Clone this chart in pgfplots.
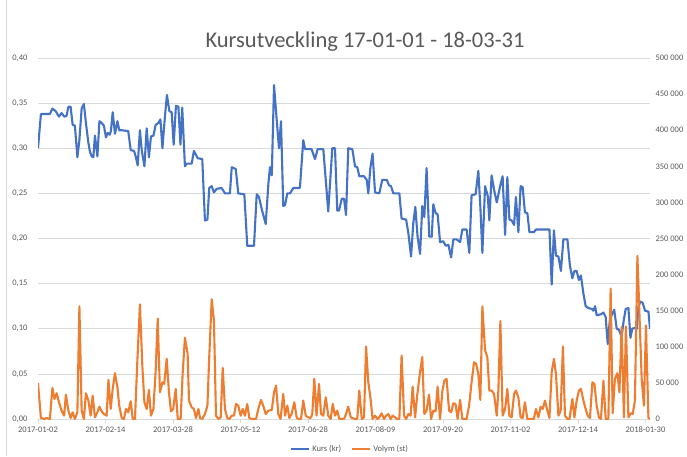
\documentclass[border=0pt]{standalone}
\usepackage{pgfplots}
\pgfplotsset{compat=1.18}
\usepackage{fontspec}
\setmainfont{Carlito}
\definecolor{kurs}{HTML}{4472C4}
\definecolor{volym}{HTML}{ED7D31}
\definecolor{gridc}{HTML}{D9D9D9}
\definecolor{txt}{HTML}{595959}
\begin{document}
\begin{tikzpicture}
\path[use as bounding box, fill=white] (-38pt,-37pt) rectangle (649pt,419pt);
\draw[gridc, line width=0.75pt] (-32pt,-37pt) -- (-32pt,419pt);
\begin{axis}[
  at={(0pt,0pt)}, anchor=south west, scale only axis, width=612pt, height=361pt,
  xmin=0, xmax=272, ymin=0, ymax=0.4,
  axis line style={draw=none},
  ymajorgrids, grid style={gridc, line width=0.75pt},
  ytick={0,0.05,0.1,0.15,0.2,0.25,0.3,0.35,0.4},
  yticklabels={{0,00},{0,05},{0,10},{0,15},{0,20},{0,25},{0,30},{0,35},{0,40}},
  ytick style={draw=none},
  yticklabel style={font=\fontsize{8.5}{10}\selectfont, text=txt, anchor=east, xshift=-3pt},
  xtick={0,30,60,90,120,150,180,210,240,270},
  xticklabels={2017-01-02,2017-02-14,2017-03-28,2017-05-12,2017-06-28,2017-08-09,2017-09-20,2017-11-02,2017-12-14,2018-01-30},
  xtick pos=bottom, tick align=outside, major tick length=4pt,
  xtick style={gridc, line width=0.75pt},
  xticklabel style={font=\fontsize{8.5}{10}\selectfont, text=txt},
]
\addplot[kurs, line width=2.1pt, line join=round] coordinates {
(0,0.300)(1.3,0.338)(5.3,0.338)(6.4,0.344)(7.9,0.341)(9.3,0.335)(10.5,0.339)(11.7,0.335)(12.7,0.336)(13.5,0.346)(14.5,0.346)(15.4,0.326)(16.4,0.325)(17.5,0.290)(18.4,0.309)(19.4,0.344)(20.4,0.349)(21.3,0.328)(22.4,0.306)(23.1,0.296)(23.9,0.291)(24.6,0.290)(25.3,0.314)(26.4,0.291)(27.3,0.330)(28.3,0.328)(29.3,0.325)(30.2,0.312)(31.0,0.317)(31.9,0.315)(32.4,0.319)(33.2,0.340)(34.2,0.316)(35.3,0.330)(36.1,0.320)(37.2,0.320)(40.1,0.319)(41.2,0.298)(42.7,0.297)(43.4,0.291)(44.3,0.281)(45.3,0.320)(46.1,0.298)(47.3,0.280)(48.3,0.322)(49.3,0.290)(50.2,0.313)(51.3,0.314)(52.3,0.326)(53.5,0.328)(54.4,0.332)(55.3,0.300)(56.4,0.335)(57.3,0.359)(58.4,0.341)(59.4,0.340)(60.3,0.304)(61.3,0.347)(62.4,0.346)(63.3,0.304)(64.1,0.345)(65.3,0.280)(66.1,0.283)(68.3,0.283)(69.3,0.297)(71.0,0.289)(73.0,0.288)(74.2,0.220)(75.3,0.221)(76.1,0.256)(77.2,0.258)(78.2,0.251)(79.4,0.255)(81.6,0.256)(83.1,0.250)(85.3,0.250)(86.1,0.279)(87.9,0.277)(89.0,0.250)(91.7,0.249)(93.0,0.192)(96.0,0.192)(97.2,0.249)(98.2,0.246)(99.4,0.233)(101.2,0.216)(102.4,0.261)(103.1,0.279)(103.9,0.270)(104.9,0.370)(106.1,0.331)(107.1,0.300)(108.0,0.330)(109.0,0.236)(109.8,0.237)(110.8,0.250)(112.0,0.250)(113.5,0.256)(116.4,0.256)(117.9,0.309)(118.7,0.299)(121.6,0.299)(123.1,0.288)(124.3,0.299)(126.8,0.299)(129.0,0.230)(130.8,0.300)(132.0,0.300)(133.0,0.231)(133.8,0.231)(135.0,0.244)(136.0,0.244)(136.9,0.226)(137.9,0.300)(139.7,0.299)(140.9,0.280)(141.9,0.279)(142.8,0.269)(144.9,0.269)(146.1,0.265)(146.8,0.250)(147.7,0.278)(148.7,0.294)(149.8,0.251)(151.7,0.250)(153.0,0.265)(155.0,0.265)(156.0,0.259)(156.9,0.258)(157.9,0.250)(160.6,0.250)(161.6,0.222)(163.6,0.221)(164.6,0.206)(165.8,0.180)(166.8,0.217)(167.7,0.235)(168.7,0.202)(169.8,0.183)(170.8,0.236)(171.7,0.224)(172.7,0.278)(173.9,0.202)(175.0,0.202)(175.7,0.238)(176.7,0.228)(177.6,0.227)(178.7,0.196)(180.1,0.197)(181.2,0.192)(182.4,0.193)(183.6,0.179)(184.6,0.199)(186.1,0.199)(187.6,0.196)(188.6,0.210)(190.5,0.210)(191.7,0.184)(192.7,0.248)(194.5,0.249)(195.7,0.275)(196.6,0.235)(197.5,0.184)(198.7,0.258)(199.9,0.247)(200.6,0.220)(201.6,0.270)(202.7,0.254)(203.9,0.240)(205.3,0.257)(206.5,0.269)(207.6,0.204)(208.6,0.268)(209.5,0.221)(210.5,0.220)(211.6,0.215)(212.4,0.246)(213.5,0.207)(214.5,0.258)(215.4,0.257)(216.4,0.229)(217.5,0.228)(218.4,0.207)(220.4,0.207)(221.3,0.210)(227.3,0.210)(228.3,0.149)(229.3,0.209)(230.2,0.181)(231.3,0.180)(232.4,0.164)(233.5,0.199)(235.3,0.199)(236.4,0.170)(237.5,0.156)(238.4,0.164)(239.4,0.164)(240.4,0.154)(241.3,0.159)(242.4,0.139)(243.4,0.125)(244.6,0.123)(246.1,0.122)(246.8,0.120)(247.6,0.125)(248.3,0.115)(250.2,0.116)(251.3,0.118)(252.3,0.113)(253.2,0.083)(254.2,0.111)(255.3,0.117)(256.1,0.121)(257.2,0.100)(258.2,0.099)(259.4,0.091)(260.3,0.109)(261.2,0.122)(262.4,0.123)(263.3,0.090)(264.1,0.100)(265.3,0.101)(266.2,0.100)(266.8,0.124)(267.7,0.130)(268.7,0.129)(269.8,0.120)(271.3,0.119)(272.0,0.100)
};
\end{axis}
\begin{axis}[
  at={(0pt,0pt)}, anchor=south west, scale only axis, width=612pt, height=361pt,
  xmin=0, xmax=272, ymin=0, ymax=500000,
  axis line style={draw=none},
  xtick=\empty,
  ytick={0,50000,100000,150000,200000,250000,300000,350000,400000,450000,500000},
  yticklabels={0,50 000,100 000,150 000,200 000,250 000,300 000,350 000,400 000,450 000,500 000},
  ytick pos=right, yticklabel pos=right, ytick style={draw=none},
  yticklabel style={font=\fontsize{8.5}{10}\selectfont, text=txt, anchor=west, xshift=2pt},
  scaled y ticks=false,
  legend style={at={(0.51,-0.083)}, anchor=center, draw=none, fill=none,
    font=\fontsize{8.5}{10}\selectfont, text=txt,
    /tikz/every even column/.append style={column sep=8pt}},
  legend columns=2,
  legend image code/.code={\draw[#1] (0pt,0pt) -- (18pt,0pt);},
]
\addlegendimage{kurs, line width=2.1pt}
\addlegendentry{Kurs (kr)}
\addplot[volym, line width=2.1pt, line join=round] coordinates {
(0,49500)(1.3,1400)(2.8,0)(3.9,1400)(5.3,0)(6.4,43100)(7.3,27800)(8.3,35700)(9.3,23200)(10.5,11600)(11.6,4600)(12.4,33800)(13.5,11600)(14.5,1400)(15.4,9300)(16.4,0)(17.5,9300)(18.4,156000)(19.4,11600)(20.4,0)(21.3,35700)(22.4,25500)(23.4,4600)(24.3,32400)(25.3,2300)(26.4,9300)(27.3,17100)(28.3,10600)(29.3,6900)(30.5,4600)(31.3,54200)(32.3,13900)(33.2,41700)(34.2,63400)(35.3,44000)(36.1,18500)(37.2,1400)(38.2,0)(39.1,13900)(40.1,9300)(41.2,24500)(42.1,0)(43.1,0)(44.1,76400)(45.3,158800)(46.4,71800)(47.3,23200)(48.3,13900)(49.3,40300)(50.2,4600)(51.3,13900)(52.3,67100)(53.2,138900)(54.2,37000)(55.3,50900)(56.1,48600)(57.2,83300)(58.2,37000)(59.1,10600)(60.1,13900)(61.2,41700)(62.1,0)(63.4,0)(64.3,63400)(65.3,112500)(66.5,90300)(67.1,25500)(68.3,16200)(69.3,13900)(70.2,1400)(71.3,13900)(72.0,1400)(73.0,0)(74.2,6900)(75.3,18500)(76.1,85700)(77.2,165800)(78.2,136600)(79.1,4600)(80.1,0)(81.2,2300)(82.1,70800)(83.1,13900)(84.1,1400)(85.0,0)(86.1,4600)(87.1,4600)(88.0,20800)(89.0,18500)(90.1,4600)(91.0,13900)(92.0,4600)(93.0,20800)(93.9,1400)(95.0,0)(96.9,0)(97.9,13900)(99.1,26400)(100.1,18500)(101.2,6900)(102.4,11600)(103.9,12500)(104.9,37000)(105.8,46300)(106.8,6900)(107.8,0)(109.0,34700)(109.8,4600)(110.8,18500)(111.7,1400)(112.7,6900)(113.9,23200)(115.0,1400)(116.0,0)(116.9,0)(117.9,25500)(119.0,4600)(120.1,2300)(121.2,1400)(121.9,6900)(122.8,55600)(123.8,4600)(124.9,48600)(125.8,6900)(126.8,4600)(127.9,30100)(129.0,4600)(130.1,0)(131.0,20800)(132.0,4600)(133.0,11600)(133.9,0)(136.0,0)(136.9,6900)(137.9,17100)(139.0,2300)(140.9,0)(141.9,0)(142.8,39400)(143.9,0)(144.9,2300)(145.8,100500)(146.8,50900)(147.9,25500)(148.7,0)(149.8,4600)(150.8,0)(151.7,2300)(152.7,7900)(153.8,0)(154.7,4600)(155.7,6900)(156.7,0)(157.6,4600)(158.7,2300)(159.7,0)(160.6,0)(161.6,88000)(162.7,4600)(163.6,0)(164.6,6900)(165.6,4600)(166.5,44900)(167.6,2300)(168.6,34700)(169.8,64800)(170.8,85700)(171.7,6900)(172.7,11600)(173.8,33800)(174.7,0)(175.7,11600)(176.7,10600)(177.6,44900)(178.7,0)(179.7,38400)(180.6,53200)(181.6,55600)(182.7,11600)(183.6,9300)(184.6,21800)(185.6,20800)(186.5,0)(187.6,26400)(188.6,0)(190.5,0)(191.6,18500)(192.7,50900)(193.8,78700)(194.7,76400)(195.7,62500)(196.6,26400)(197.5,156000)(198.7,95000)(199.7,85700)(200.6,39400)(201.6,39400)(202.7,34700)(203.9,4600)(204.6,39400)(205.5,135700)(206.5,4600)(207.6,13900)(208.6,41700)(209.5,4600)(210.5,2300)(211.6,34700)(212.4,39400)(213.5,30100)(214.5,2300)(215.4,1400)(216.4,23200)(217.5,0)(220.4,0)(221.3,13900)(222.4,2300)(223.4,17100)(224.3,13900)(225.3,25500)(226.4,11600)(227.3,1400)(228.3,64800)(229.3,83300)(230.2,62500)(231.3,4600)(232.3,11600)(233.3,100500)(234.2,4600)(235.3,0)(236.2,0)(237.5,27800)(238.4,2300)(239.4,25500)(240.4,39400)(241.3,41700)(242.4,25500)(243.4,13900)(244.3,4600)(245.3,1400)(246.4,50900)(247.3,48600)(248.3,18500)(249.3,2300)(250.2,0)(251.3,53200)(252.3,0)(253.5,0)(254.5,180600)(255.4,7900)(256.4,55600)(257.5,63400)(258.4,37000)(259.4,127300)(260.4,2300)(261.3,128200)(262.4,2300)(263.4,7900)(264.3,6900)(265.3,25500)(266.4,225900)(267.3,145800)(268.3,55600)(269.3,18500)(270.2,129600)(271.3,1400)(272.0,0)
};
\addlegendentry{Volym (st)}
\end{axis}
\node[font=\fontsize{22.5}{26}\selectfont, text=txt] at (327pt,377pt) {Kursutveckling 17-01-01 - 18-03-31};
\end{tikzpicture}
\end{document}
